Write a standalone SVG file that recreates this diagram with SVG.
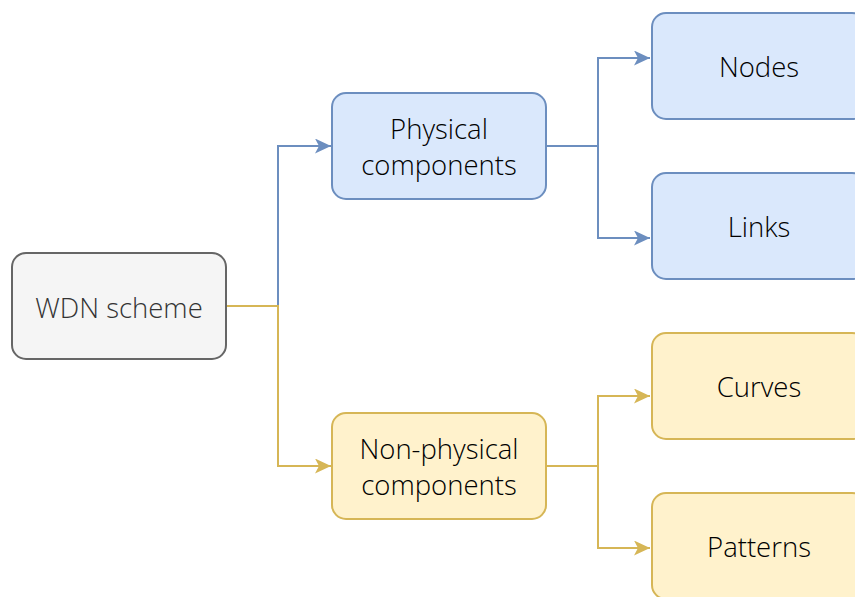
<svg xmlns="http://www.w3.org/2000/svg" width="855" height="597" viewBox="0 0 855 597">
<defs>
<style>
.box{stroke-width:2}
.gray{fill:#f5f5f5;stroke:#666666}
.blue{fill:#dae8fc;stroke:#6c8ebf}
.yel{fill:#fff2cc;stroke:#d6b656}
text{font-family:"Open Sans","Noto Sans",sans-serif;font-size:27.5px;font-weight:350;text-anchor:middle;fill:#000000}
.lb{fill:none;stroke:#6c8ebf;stroke-width:2}
.ly{fill:none;stroke:#d6b656;stroke-width:2}
</style>
<marker id="ab" markerUnits="userSpaceOnUse" markerWidth="18" markerHeight="16" refX="16" refY="7.5" orient="auto">
<path d="M0,0 L16,7.5 L0,15 L4,7.5 Z" fill="#6c8ebf"/>
</marker>
<marker id="ay" markerUnits="userSpaceOnUse" markerWidth="18" markerHeight="16" refX="16" refY="7.5" orient="auto">
<path d="M0,0 L16,7.5 L0,15 L4,7.5 Z" fill="#d6b656"/>
</marker>
</defs>
<g id="connectors">
<path class="lb" d="M278,306 V146 H331" marker-end="url(#ab)"/>
<path class="ly" d="M226,306 H278 V466 H331" marker-end="url(#ay)"/>
<path class="lb" d="M546,146 H598 V58 H650" marker-end="url(#ab)"/>
<path class="lb" d="M598,146 V238 H650" marker-end="url(#ab)"/>
<path class="ly" d="M546,466 H598 V396 H650" marker-end="url(#ay)"/>
<path class="ly" d="M598,466 V548 H650" marker-end="url(#ay)"/>
</g>
<g id="wdn">
<rect class="box gray" x="12" y="253" width="214" height="106" rx="14"/>
<text x="119" y="318" style="fill:#333333">WDN scheme</text>
</g>
<g id="physical">
<rect class="box blue" x="332" y="93" width="214" height="106" rx="14"/>
<text x="439" y="139">Physical</text>
<text x="439" y="175">components</text>
</g>
<g id="nonphysical">
<rect class="box yel" x="332" y="413" width="214" height="106" rx="14"/>
<text x="439" y="459">Non-physical</text>
<text x="439" y="495">components</text>
</g>
<g id="nodes">
<rect class="box blue" x="652" y="13" width="214" height="106" rx="14"/>
<text x="759" y="77">Nodes</text>
</g>
<g id="links">
<rect class="box blue" x="652" y="173" width="214" height="106" rx="14"/>
<text x="759" y="237">Links</text>
</g>
<g id="curves">
<rect class="box yel" x="652" y="333" width="214" height="106" rx="14"/>
<text x="759" y="397">Curves</text>
</g>
<g id="patterns">
<rect class="box yel" x="652" y="493" width="214" height="106" rx="14"/>
<text x="759" y="557">Patterns</text>
</g>
</svg>
